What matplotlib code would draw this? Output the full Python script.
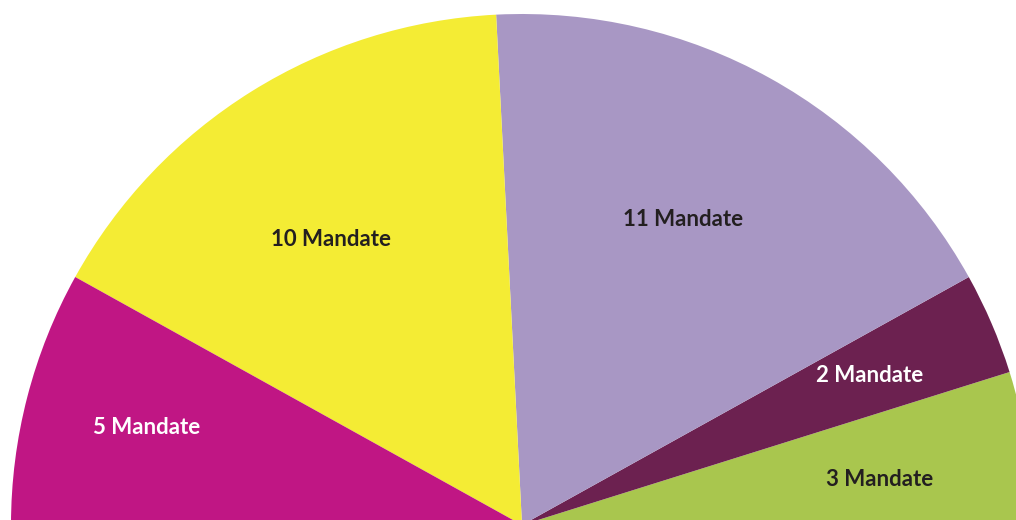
import matplotlib.pyplot as plt
import numpy as np

# seats, drawn counter-clockwise starting from the right
seats = [3, 2, 11, 10, 5]
labels = ['3 Mandate', '2 Mandate', '11 Mandate', '10 Mandate', '5 Mandate']
colors = ['#A9C64E', '#6C2150', '#A897C4', '#F4EC34', '#C01684']
text_colors = ['#231F20', 'white', '#231F20', '#231F20', 'white']
# label placement: fraction of radius, and nudge (degrees) from wedge middle
label_dist = [0.707, 0.742, 0.68, 0.675, 0.759]
label_shift = [-1.1, 0.3, 1.4, 1.6, -0.3]

fig = plt.figure(figsize=(10.16, 5.2), dpi=100)
ax = fig.add_axes([0, 0, 1, 1])

# pixel-like data space: centre of the half circle just below the bottom edge
cx, cy, R = 522, -5, 511
total = sum(seats)
# pad with an invisible half so the visible part is a semicircle
wedges, _ = ax.pie(seats + [total], colors=colors + ['none'], radius=R,
                   center=(cx, cy), startangle=0, counterclock=True,
                   wedgeprops=dict(linewidth=0))
wedges[-1].set_visible(False)

for w, lab, tc, d, s in zip(wedges[:-1], labels, text_colors, label_dist, label_shift):
    ang = np.deg2rad((w.theta1 + w.theta2) / 2 + s)
    ax.text(cx + d * R * np.cos(ang), cy + d * R * np.sin(ang), lab,
            ha='center', va='center_baseline', color=tc, fontsize=16,
            fontweight='bold', family='Lato')

ax.set_xlim(0, 1016)
ax.set_ylim(0, 520)
ax.set_aspect('auto')
ax.axis('off')

plt.savefig('out.png', dpi=100)
